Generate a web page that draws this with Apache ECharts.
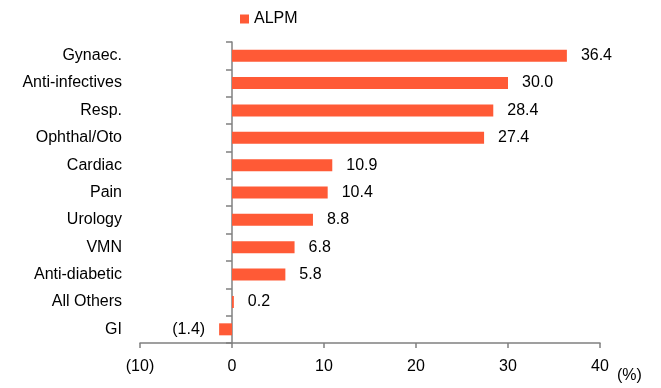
<!DOCTYPE html>
<html>
<head>
<meta charset="utf-8">
<script src="https://cdn.jsdelivr.net/npm/echarts@6/dist/echarts.min.js"></script>
<style>
  html, body { margin: 0; padding: 0; background: #fff; }
  #chart { width: 661px; height: 388px; }
</style>
</head>
<body>
<div id="chart"></div>
<script>
  // 类目和数值
  var categories = ['Gynaec.', 'Anti-infectives', 'Resp.', 'Ophthal/Oto', 'Cardiac', 'Pain',
    'Urology', 'VMN', 'Anti-diabetic', 'All Others', 'GI'];
  var alpm = [36.4, 30.0, 28.4, 27.4, 10.9, 10.4, 8.8, 6.8, 5.8, 0.2, -1.4];
  var xTicks = { min: -10, max: 40, step: 10 };

  var font = "'Liberation Sans Narrow', 'Arial Narrow', 'Liberation Sans', Arial, sans-serif";
  var fmt = function (v) {
    return v < 0 ? '(' + Math.abs(v).toFixed(1) + ')' : v.toFixed(1);
  };

  var myChart = echarts.init(document.getElementById('chart'));
  var option = {
    animation: false,
    textStyle: { fontFamily: font },
    legend: {
      data: ['ALPM'],
      top: 6,
      left: 235,
      itemWidth: 9,
      itemHeight: 9,
      itemGap: 4,
      icon: 'rect',
      textStyle: { fontFamily: font, fontSize: 16, color: '#000' }
    },
    grid: { left: 140, right: 61, top: 42, bottom: 45, containLabel: false, outerBoundsMode: 'none' },
    xAxis: {
      type: 'value',
      min: xTicks.min,
      max: xTicks.max,
      interval: xTicks.step,
      name: '(%)',
      nameLocation: 'end',
      nameGap: 17,
      nameTextStyle: { fontFamily: font, fontSize: 16, color: '#000', verticalAlign: 'top', padding: [25, 0, 0, 0] },
      axisLine: { show: true, lineStyle: { color: '#808080', width: 1.5 } },
      axisTick: { show: true, length: 5, lineStyle: { color: '#808080', width: 1.5 } },
      axisLabel: {
        fontFamily: font, fontSize: 16, color: '#000', margin: 16,
        formatter: function (v) { return v < 0 ? '(' + Math.abs(v) + ')' : String(v); }
      },
      splitLine: { show: false }
    },
    yAxis: {
      type: 'category',
      data: categories,
      inverse: true,
      axisLine: { show: true, onZero: true, lineStyle: { color: '#808080', width: 1.5 } },
      axisTick: { show: true, length: 6, lineStyle: { color: '#808080', width: 1.5 } },
      axisLabel: { fontFamily: font, fontSize: 16, color: '#000', margin: 18 }
    },
    series: [{
      name: 'ALPM',
      type: 'bar',
      data: alpm.map(function (v) {
        return { value: v, label: { position: v < 0 ? 'left' : 'right' } };
      }),
      barWidth: 12,
      itemStyle: { color: '#FF5A36' },
      label: {
        show: true,
        distance: 14,
        fontFamily: font,
        fontSize: 16,
        color: '#000',
        formatter: function (p) { return fmt(p.value); }
      }
    }]
  };
  myChart.setOption(option);
</script>
</body>
</html>
